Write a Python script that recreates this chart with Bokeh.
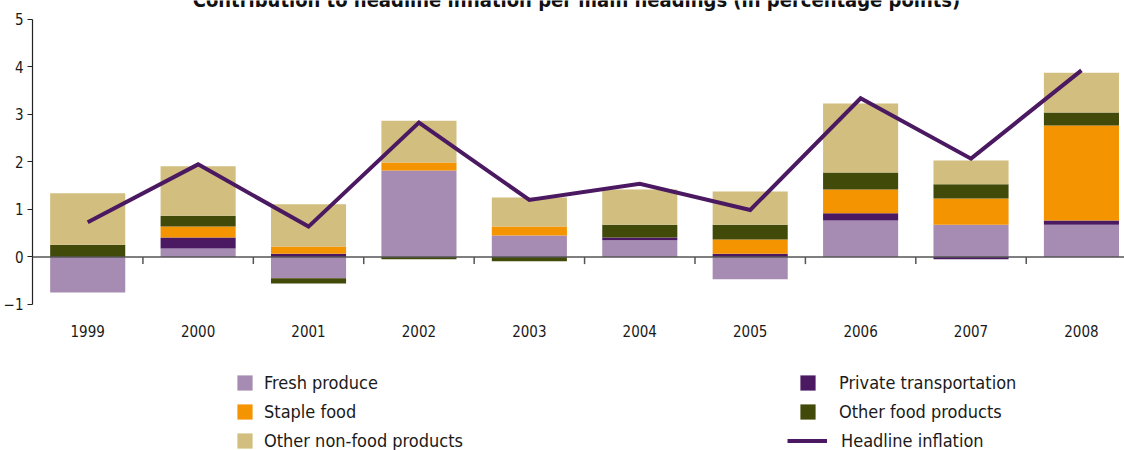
from bokeh.plotting import figure
from bokeh.models import Range1d, FixedTicker, Span, Label, Legend, LegendItem, ColumnDataSource
from bokeh.core.properties import value
from bokeh.embed import file_html
from bokeh.resources import INLINE

years = ["1999", "2000", "2001", "2002", "2003", "2004", "2005", "2006", "2007", "2008"]
fresh_produce = [-0.75, 0.18, -0.45, 1.82, 0.45, 0.35, -0.47, 0.77, 0.68, 0.68]
private_transportation = [0.0, 0.23, 0.07, 0.0, 0.0, 0.06, 0.07, 0.15, -0.05, 0.09]
staple_food = [0.0, 0.23, 0.15, 0.17, 0.19, 0.0, 0.30, 0.50, 0.55, 2.00]
other_food_products = [0.26, 0.23, -0.11, -0.05, -0.09, 0.27, 0.31, 0.36, 0.30, 0.27]
other_non_food_products = [1.08, 1.04, 0.89, 0.88, 0.61, 0.74, 0.70, 1.45, 0.50, 0.84]
headline_inflation = [0.73, 1.95, 0.64, 2.83, 1.20, 1.54, 0.99, 3.34, 2.07, 3.93]
y_ticks = [-1, 0, 1, 2, 3, 4, 5]

FONT = "DejaVu Sans Condensed"
TEXT = "#1a1a1a"

series = [
    ("Fresh produce", fresh_produce, "#a68bb2"),
    ("Private transportation", private_transportation, "#4b1961"),
    ("Staple food", staple_food, "#f39400"),
    ("Other food products", other_food_products, "#424a0a"),
    ("Other non-food products", other_non_food_products, "#d2be7e"),
]

xs = list(range(len(years)))

# frame covers the whole canvas; 1 unit = 47.5 px, 5 at 19 px, -1 at 304 px
p = figure(width=1124, height=450, output_backend="svg", toolbar_location=None,
           x_range=Range1d(-0.5, 9.39), y_range=Range1d(-4.074, 5.4),
           min_border_left=32, min_border_right=0, min_border_top=0, min_border_bottom=0)
p.outline_line_color = None
p.grid.visible = False
p.xaxis.visible = False
p.background_fill_color = "white"

pos = [0.0] * len(years)
neg = [0.0] * len(years)
renderers = {}
for name, vals, color in series:
    bottoms, tops = [], []
    for i, v in enumerate(vals):
        if v >= 0:
            bottoms.append(pos[i]); tops.append(pos[i] + v); pos[i] += v
        else:
            bottoms.append(neg[i]); tops.append(neg[i] + v); neg[i] += v
    src = ColumnDataSource(dict(x=xs, bottom=bottoms, top=tops))
    renderers[name] = p.vbar(x="x", bottom="bottom", top="top", width=0.68, source=src,
                             fill_color=color, line_color=None)

line_r = p.line(xs, headline_inflation, line_color="#4b1961", line_width=4, line_join="miter")

p.add_layout(Span(location=0, dimension="width", line_color="#555555", line_width=1.5))
bounds = [i + 0.5 for i in xs[:-1]]
p.segment(x0=bounds, x1=bounds, y0=[0] * len(bounds), y1=[-0.15] * len(bounds),
          line_color="#555555", line_width=1.5)

# category labels
p.text(x=xs, y=[min(y_ticks) - 0.55] * len(xs), text=years, text_align="center",
       text_baseline="middle", text_font=value(FONT), text_font_size="15px", text_color=TEXT)

ya = p.yaxis[0]
ya.ticker = FixedTicker(ticks=y_ticks)
ya.bounds = (min(y_ticks), max(y_ticks))
ya.axis_line_color = "#222222"
ya.axis_line_width = 1.2
ya.major_tick_line_color = "#222222"
ya.major_tick_out = 5
ya.major_tick_in = 0
ya.minor_tick_line_color = None
ya.major_label_standoff = 4
ya.major_label_text_font = FONT
ya.major_label_text_font_size = "15px"
ya.major_label_text_color = TEXT

# title (partly cut at the top, as in the reference)
p.add_layout(Label(x=544, y=451, x_units="screen", y_units="screen",
                   text="Contribution to headline inflation per main headings (in percentage points)",
                   text_align="center", text_baseline="alphabetic",
                   text_font=FONT, text_font_style="bold", text_font_size="20px",
                   text_color="#111111"))

# legends
def make_legend(items, x, y, gw, gh, standoff):
    lg = Legend(items=items, location=(x, y), orientation="vertical",
                glyph_width=gw, glyph_height=gh, label_standoff=standoff,
                label_text_font=FONT, label_text_font_size="18px", label_text_color=TEXT,
                label_height=29, spacing=0, padding=0, margin=0,
                border_line_color=None, background_fill_alpha=0)
    p.add_layout(lg)

make_legend([LegendItem(label="Fresh produce", renderers=[renderers["Fresh produce"]]),
             LegendItem(label="Staple food", renderers=[renderers["Staple food"]]),
             LegendItem(label="Other non-food products", renderers=[renderers["Other non-food products"]])],
            203, -4.5, 19, 19, 10)
make_legend([LegendItem(label="Private transportation", renderers=[renderers["Private transportation"]]),
             LegendItem(label="Other food products", renderers=[renderers["Other food products"]])],
            766, 24.5, 19, 19, 22)
make_legend([LegendItem(label="Headline inflation", renderers=[line_r])],
            755, -4.5, 40, 19, 14)

open("out.html", "w").write(file_html(p, INLINE))
